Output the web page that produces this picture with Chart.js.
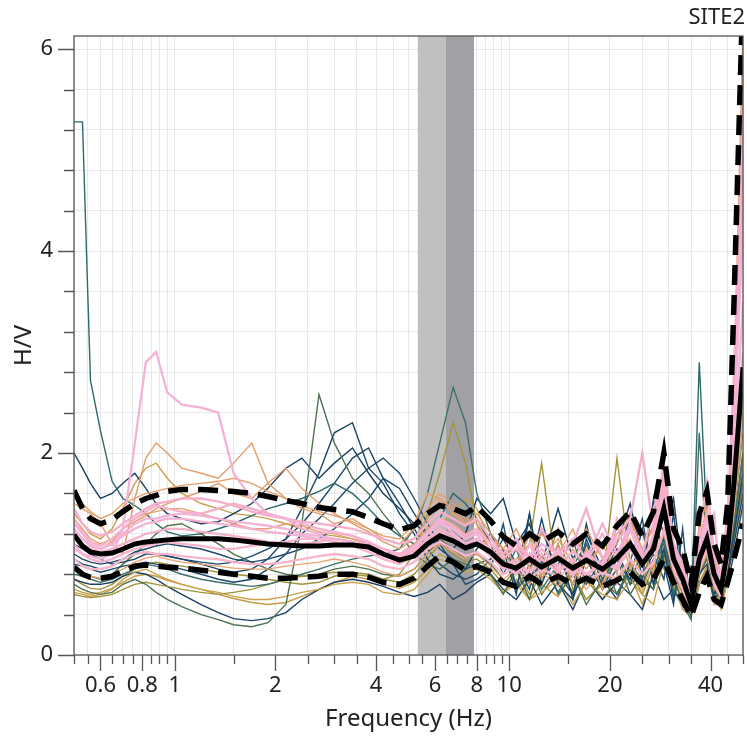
<!DOCTYPE html>
<html>
<head>
<meta charset="utf-8">
<script src="https://cdn.jsdelivr.net/npm/chart.js@4.4.1/dist/chart.umd.min.js"></script>
<style>
  html, body { margin: 0; padding: 0; background: #fff; }
  #wrap { width: 747px; height: 744px; }
</style>
</head>
<body>
<div id="wrap"><canvas id="hvChart" width="747" height="744"></canvas></div>
<script>
// frequencies (Hz) shared by every curve
var freq = [0.5,0.53,0.56,0.6,0.65,0.7,0.76,0.82,0.88,0.95,
  1.05,1.2,1.35,1.5,1.7,1.9,2.15,2.4,2.7,3,
  3.4,3.8,4.2,4.7,5.2,5.7,6.2,6.8,7.4,8,
  8.8,9.6,10.5,11.5,12.5,14,15.5,17,19,21,
  23,25,27,29,31,33,35,37,39,41,
  43,45,47,50];

// average H/V and +/- std curves
var hvMean = [1.19,1.08,1.02,1.00,1.01,1.05,1.10,1.12,1.13,1.14,
  1.15,1.15,1.15,1.14,1.12,1.10,1.09,1.08,1.08,1.09,
  1.09,1.07,1.00,0.94,0.98,1.10,1.18,1.13,1.06,1.10,
  1.02,0.90,0.86,0.95,0.87,0.96,0.86,0.94,0.85,0.96,
  1.10,0.90,1.05,1.45,0.95,0.75,0.50,0.95,1.15,0.80,
  0.65,1.05,1.70,2.85];
var hvUpper = [1.63,1.45,1.35,1.30,1.34,1.42,1.50,1.55,1.58,1.62,
  1.64,1.64,1.63,1.62,1.60,1.57,1.53,1.50,1.46,1.44,
  1.42,1.36,1.30,1.24,1.28,1.40,1.48,1.45,1.40,1.47,
  1.33,1.17,1.08,1.20,1.12,1.22,1.10,1.20,1.08,1.28,
  1.42,1.18,1.42,2.00,1.25,1.05,0.70,1.40,1.62,1.10,
  0.90,1.50,3.50,6.60];
var hvLower = [0.87,0.80,0.77,0.76,0.78,0.83,0.88,0.89,0.88,0.87,
  0.86,0.84,0.82,0.80,0.78,0.76,0.76,0.77,0.78,0.80,
  0.80,0.77,0.72,0.70,0.76,0.88,0.98,0.92,0.84,0.88,
  0.82,0.72,0.68,0.78,0.70,0.78,0.70,0.76,0.68,0.74,
  0.82,0.70,0.75,0.95,0.72,0.55,0.38,0.62,0.78,0.55,
  0.50,0.72,0.95,1.30];

// single time-window curves
var win01 = [5.28,5.28,2.72,2.22,1.72,1.55,1.48,1.40,1.30,1.22,
  1.18,1.20,1.25,1.30,1.38,1.45,1.50,1.55,1.62,1.70,
  1.60,1.45,1.30,1.18,1.10,1.20,1.35,1.60,1.50,1.35,
  1.10,0.80,1.05,0.70,0.95,0.62,0.88,1.10,0.75,0.98,
  0.70,1.05,0.80,1.20,0.60,0.85,0.45,2.90,1.30,0.75,
  0.60,0.95,1.40,2.40];
var win02 = [1.05,1.00,0.98,0.95,1.00,1.25,2.10,2.90,3.00,2.60,
  2.48,2.45,2.40,1.80,1.55,1.40,1.35,1.25,1.20,1.22,
  1.18,1.10,1.05,1.00,1.05,1.20,1.35,1.20,1.10,1.15,
  1.05,0.92,0.80,1.10,0.85,1.05,0.80,1.00,0.90,1.15,
  1.25,0.90,1.20,1.60,0.95,0.75,0.55,1.05,1.30,0.85,
  0.70,1.20,2.00,3.50];
var win03 = [1.50,1.45,1.40,1.30,1.10,1.00,1.55,1.95,2.10,2.00,
  1.85,1.80,1.75,1.90,2.10,1.70,1.55,1.45,1.40,1.30,
  1.35,1.25,1.15,1.10,1.25,1.45,1.60,1.50,1.35,1.30,
  1.10,1.00,0.85,1.20,0.75,1.10,0.70,1.05,0.65,1.30,
  0.85,1.05,0.80,1.75,1.10,0.70,0.50,1.30,1.50,0.65,
  0.75,1.30,2.50,5.00];
var win04 = [1.10,1.05,1.00,0.95,0.90,0.92,0.95,1.00,1.00,0.98,
  0.95,0.90,0.85,0.82,0.85,0.95,1.15,1.45,1.80,2.20,
  2.30,1.85,1.70,1.40,1.20,0.95,0.80,0.75,0.85,1.05,
  1.20,1.05,0.60,1.40,0.70,1.10,0.55,1.30,0.65,0.95,
  0.75,1.25,0.70,1.05,0.55,0.90,0.45,0.85,1.45,0.60,
  0.70,0.85,1.20,1.80];
var win05 = [0.90,0.88,0.85,0.82,0.85,0.88,0.90,0.92,0.90,0.88,
  0.85,0.80,0.75,0.72,0.75,0.85,1.00,1.20,1.35,1.50,
  1.70,1.85,1.95,1.80,1.55,1.30,1.10,0.90,0.70,0.75,
  0.85,1.30,0.65,0.80,1.35,0.70,0.55,0.95,0.65,0.85,
  1.40,0.75,1.55,0.90,0.50,1.25,0.40,0.80,0.90,0.55,
  0.65,0.80,1.10,1.60];
var win06 = [0.70,0.65,0.62,0.60,0.62,0.70,0.75,0.70,0.62,0.55,
  0.48,0.40,0.35,0.30,0.28,0.32,0.50,1.30,2.58,2.10,
  1.75,1.60,1.40,1.20,1.00,0.90,0.85,0.95,0.90,0.85,
  0.80,0.60,0.85,0.55,1.00,0.60,0.80,0.50,0.75,0.95,
  0.60,0.80,0.65,1.00,0.75,0.55,0.40,0.80,0.95,0.70,
  0.60,0.85,1.20,1.70];
var win07 = [0.80,0.78,0.75,0.72,0.75,0.80,0.85,0.90,0.88,0.85,
  0.80,0.75,0.72,0.70,0.68,0.70,0.75,0.80,0.85,0.90,
  0.95,0.98,1.00,1.05,1.25,1.60,2.10,2.65,2.30,1.60,
  1.20,0.95,0.70,1.00,0.65,0.90,1.15,0.70,0.95,0.60,
  0.85,0.70,0.95,1.10,0.65,0.50,0.35,2.20,1.00,0.65,
  0.55,0.85,1.30,2.00];
var win08 = [0.60,0.58,0.57,0.58,0.60,0.65,0.70,0.72,0.70,0.68,
  0.65,0.62,0.60,0.62,0.65,0.70,0.75,0.78,0.80,0.82,
  0.80,0.78,0.75,0.80,1.00,1.40,1.80,2.30,1.90,1.30,
  1.00,0.85,0.95,1.10,1.90,0.70,0.80,0.55,0.70,1.95,
  0.90,0.65,1.20,0.85,0.70,1.00,0.45,0.85,1.10,0.55,
  0.80,0.90,1.40,2.20];
var win09 = [0.62,0.60,0.58,0.60,0.65,0.75,0.82,0.85,0.80,0.75,
  0.70,0.65,0.62,0.58,0.55,0.55,0.58,0.62,0.65,0.70,
  0.72,0.70,0.62,0.60,0.65,0.80,0.95,0.90,0.82,0.85,
  0.75,0.62,0.70,0.55,0.62,0.75,0.50,0.72,0.60,0.55,
  0.75,0.60,0.50,0.95,0.70,0.45,0.38,0.70,0.85,0.58,
  0.45,0.75,1.10,1.60];
var win10 = [1.35,1.25,1.15,1.10,1.15,1.25,1.35,1.40,1.42,1.45,
  1.45,1.40,1.35,1.30,1.25,1.25,1.30,1.28,1.22,1.20,
  1.15,1.10,1.05,1.00,1.10,1.25,1.35,1.30,1.20,1.25,
  1.05,0.95,1.10,0.85,1.00,0.80,1.05,0.85,1.10,0.80,
  1.25,0.95,1.15,1.65,1.00,0.80,0.55,1.05,1.35,0.90,
  0.72,1.25,2.20,4.50];
var win11 = [1.20,1.10,1.05,1.02,1.05,1.10,1.15,1.20,1.22,1.25,
  1.25,1.22,1.20,1.18,1.15,1.12,1.10,1.10,1.12,1.15,
  1.12,1.08,1.02,0.98,1.02,1.15,1.25,1.18,1.10,1.15,
  1.05,0.88,0.95,0.82,1.00,0.85,0.95,0.80,0.92,0.88,
  1.10,0.90,1.05,1.50,0.95,0.75,0.52,0.98,1.20,0.82,
  0.68,1.10,1.80,3.00];
var win12 = [1.45,1.30,1.22,1.18,1.22,1.30,1.38,1.45,1.50,1.52,
  1.55,1.55,1.52,1.48,1.42,1.38,1.35,1.32,1.30,1.28,
  1.25,1.20,1.15,1.10,1.15,1.30,1.42,1.35,1.28,1.35,
  1.15,1.00,1.10,0.95,1.25,0.95,1.10,1.45,0.95,1.20,
  1.35,2.00,1.25,1.90,1.10,0.90,0.62,1.20,1.70,1.00,
  0.80,1.40,2.80,5.50];
var win13 = [0.95,0.88,0.85,0.85,0.88,0.95,1.00,1.02,1.00,1.00,
  0.98,0.96,0.95,0.92,0.90,0.90,0.92,0.95,0.98,1.00,
  0.98,0.95,0.88,0.85,0.92,1.05,1.12,1.05,0.98,1.02,
  0.92,0.80,0.88,0.76,0.85,0.78,0.88,0.74,0.82,0.76,
  0.95,0.80,0.92,1.25,0.85,0.65,0.45,0.85,1.05,0.70,
  0.58,0.95,1.50,2.60];
var win14 = [1.30,1.20,1.10,1.05,1.10,1.20,1.30,1.35,1.35,1.38,
  1.40,1.38,1.35,1.32,1.30,1.28,1.25,1.20,1.18,1.15,
  1.12,1.05,0.98,0.95,1.05,1.20,1.30,1.25,1.15,1.20,
  1.00,0.90,0.80,1.00,0.82,1.05,0.78,1.00,0.80,1.35,
  1.10,0.88,1.05,1.45,0.92,0.72,0.50,0.92,1.25,1.40,
  0.62,1.15,2.30,4.20];
var win15 = [0.75,0.72,0.70,0.70,0.72,0.78,0.82,0.80,0.75,0.68,
  0.60,0.50,0.42,0.36,0.34,0.36,0.42,0.55,0.65,0.72,
  0.75,0.72,0.68,0.62,0.58,0.62,0.70,0.55,0.62,0.72,
  0.80,0.65,0.55,0.75,0.50,0.72,0.45,0.75,0.55,0.72,
  0.60,0.45,0.80,0.55,0.65,0.48,0.40,0.70,0.85,0.55,
  0.52,0.72,1.00,1.50];
var win16 = [2.00,1.85,1.70,1.55,1.60,1.70,1.80,1.65,1.50,1.40,
  1.35,1.30,1.32,1.40,1.50,1.65,1.85,1.95,1.75,1.90,
  2.05,1.80,1.60,1.45,1.30,1.20,1.10,1.05,1.20,1.55,
  1.40,1.55,1.10,1.30,0.90,1.45,0.95,1.20,0.85,1.10,
  1.50,0.95,1.50,1.20,1.55,0.80,0.55,1.00,1.20,0.80,
  0.65,1.00,1.60,2.60];
var win17 = [1.25,1.15,1.08,1.05,1.12,1.25,1.32,1.38,1.45,1.50,
  1.55,1.62,1.70,1.60,1.55,1.70,1.85,1.65,1.50,1.40,
  1.30,1.22,1.12,1.05,1.15,1.35,1.55,1.45,1.30,1.40,
  1.20,1.05,0.90,1.20,0.95,1.15,0.90,1.25,0.95,1.10,
  1.40,1.00,1.30,1.70,1.10,0.85,0.60,1.10,1.40,0.95,
  0.75,1.35,2.60,5.80];
var win18 = [0.75,0.70,0.66,0.65,0.70,0.78,0.85,0.90,0.92,0.90,
  0.88,0.85,0.82,0.80,0.78,0.75,0.72,0.70,0.72,0.78,
  0.82,0.80,0.75,0.72,0.80,0.95,1.10,1.00,0.92,0.95,
  0.85,0.70,0.85,0.60,0.80,1.25,0.65,0.80,0.55,0.78,
  0.85,0.60,0.88,1.05,0.78,0.62,0.42,0.78,0.95,0.62,
  0.52,0.80,1.20,1.90];
var win19 = [0.95,0.90,0.88,0.85,0.88,0.95,1.02,1.05,1.08,1.10,
  1.08,1.05,1.00,0.95,0.92,0.95,1.00,1.05,1.15,1.25,
  1.40,1.55,1.75,1.65,1.40,1.20,1.05,0.95,0.85,0.90,
  0.95,1.05,0.80,1.40,0.75,0.95,0.70,1.10,0.80,1.05,
  0.70,0.80,1.00,0.75,1.40,0.65,0.42,0.85,1.05,0.70,
  0.58,0.90,1.30,2.00];
var win20 = [1.40,1.30,1.20,1.15,1.25,1.45,1.70,1.85,1.90,1.75,
  1.60,1.50,1.45,1.40,1.38,1.35,1.30,1.25,1.20,1.18,
  1.15,1.10,1.05,1.00,1.05,1.20,1.30,1.40,1.55,1.45,
  1.10,0.95,0.70,1.00,0.80,1.00,0.70,0.95,0.70,0.95,
  1.15,0.75,1.10,1.55,0.95,0.60,0.50,0.95,1.20,0.80,
  0.65,1.10,1.70,3.00];
var win21 = [1.35,1.22,1.12,1.08,1.15,1.25,1.35,1.42,1.48,1.45,
  1.42,1.40,1.45,1.50,1.45,1.40,1.35,1.30,1.25,1.22,
  1.18,1.12,1.05,1.00,1.08,1.22,1.35,1.28,1.18,1.25,
  1.10,0.96,1.05,0.90,1.05,0.88,1.02,0.92,1.20,0.95,
  1.25,0.95,1.15,1.70,1.02,0.82,0.55,1.05,1.35,0.88,
  0.70,1.25,2.20,4.80];
var win22 = [1.10,1.00,0.95,0.92,0.95,1.00,1.05,1.08,1.10,1.12,
  1.10,1.08,1.05,1.05,1.08,1.10,1.12,1.15,1.15,1.12,
  1.08,1.02,0.95,0.90,0.98,1.12,1.22,1.15,1.05,1.10,
  0.98,0.85,0.92,0.80,0.95,0.82,0.94,0.78,0.92,0.85,
  1.05,0.88,1.02,1.40,0.92,0.72,0.48,0.92,1.12,0.78,
  0.62,1.02,1.65,2.80];
var win23 = [0.85,0.80,0.78,0.76,0.80,0.85,0.92,0.96,0.98,0.95,
  0.92,0.90,0.88,0.86,0.85,0.85,0.88,0.90,0.92,0.95,
  0.92,0.88,0.82,0.78,0.85,1.00,1.10,1.02,0.95,1.00,
  0.88,0.75,0.85,0.70,0.82,0.68,0.86,0.65,0.84,0.70,
  0.95,0.65,0.92,1.20,0.82,0.55,0.42,0.82,1.00,0.68,
  0.55,0.90,1.40,2.40];
var win24 = [1.00,0.95,0.92,0.90,0.92,0.95,1.00,1.02,1.00,0.98,
  0.95,0.92,0.90,0.92,0.98,1.05,1.15,1.30,1.50,1.70,
  1.95,2.05,1.75,1.50,1.25,1.05,0.90,0.80,0.75,0.80,
  0.95,1.15,0.90,0.65,1.25,0.80,0.60,1.15,0.75,0.55,
  0.92,1.35,0.70,1.15,0.78,0.50,0.45,0.88,1.05,0.70,
  0.58,0.88,1.25,1.90];
var win25 = [0.85,0.80,0.78,0.75,0.80,0.90,1.00,1.10,1.20,1.28,
  1.30,1.20,1.10,1.00,0.92,0.85,0.80,0.78,0.80,0.85,
  0.88,0.85,0.80,0.78,0.85,1.00,1.15,1.05,0.95,1.00,
  0.90,0.75,0.65,0.90,0.60,0.85,0.62,0.80,0.72,0.60,
  0.90,0.75,0.65,1.05,0.78,0.62,0.42,0.80,0.98,0.66,
  0.55,0.85,1.25,1.90];
var win26 = [0.65,0.62,0.60,0.62,0.66,0.72,0.78,0.80,0.78,0.74,
  0.70,0.65,0.60,0.56,0.52,0.50,0.52,0.58,0.65,0.72,
  0.78,0.75,0.70,0.66,0.72,0.85,1.00,0.92,0.85,0.88,
  0.78,0.62,0.75,0.55,0.70,0.58,0.80,0.55,0.72,0.62,
  0.80,0.50,0.82,0.98,0.60,0.58,0.38,0.72,0.88,0.50,
  0.50,0.78,1.15,1.70];
var win27 = [1.25,1.15,1.08,1.05,1.10,1.18,1.25,1.30,1.32,1.35,
  1.35,1.32,1.30,1.28,1.25,1.22,1.20,1.18,1.15,1.15,
  1.12,1.08,1.00,0.96,1.05,1.20,1.32,1.25,1.15,1.22,
  1.10,1.00,1.15,0.95,1.10,1.00,1.15,0.95,1.30,1.00,
  1.30,1.00,1.45,1.75,1.05,0.85,0.58,1.10,1.40,0.90,
  0.72,1.28,2.40,5.20];
var win28 = [1.60,1.50,1.42,1.35,1.40,1.50,1.55,1.60,1.62,1.65,
  1.68,1.70,1.72,1.75,1.70,1.62,1.55,1.48,1.42,1.38,
  1.32,1.25,1.18,1.15,1.30,1.60,1.55,1.40,1.30,1.35,
  1.15,1.05,1.25,0.95,1.20,1.00,1.25,0.90,1.10,1.15,
  1.35,1.05,1.25,1.85,1.10,0.88,0.62,1.15,1.45,0.95,
  0.78,1.35,2.70,6.20];

// peak frequency band: f0/std, f0, f0*std
var peakBand = [5.33, 6.47, 7.85];

// axis ticks
var xTickVals = [0.5,0.55,0.6,0.65,0.7,0.75,0.8,0.85,0.9,0.95,
  1,1.5,2,2.5,3,3.5,4,4.5,5,5.5,6,6.5,7,7.5,8,8.5,9,9.5,
  10,15,20,25,30,35,40,45,50];
var xLabelVals = [0.6,0.8,1,2,4,6,8,10,20,40];
var yTickVals = [0,0.4,0.8,1.2,1.6,2,2.4,2.8,3.2,3.6,4,4.4,4.8,5.2,5.6,6];
var yLabelVals = [0,2,4,6];

var windowSeries = [win01,win02,win03,win04,win05,win06,win07,win08,
  win09,win10,win11,win12,win13,win14,win15,win16,
  win17,win18,win19,win20,win21,win22,win23,win24,win25,win26,win27,win28];
var windowColors = ['#2d6a6c','#f4b2d6','#e39d68','#1b4563','#1d4a6a','#4f7352','#3f7068','#a3953a',
  '#c9a24c','#e6a070','#f6b0c8','#f5afca','#f7b5cc','#f2b3d8','#1a3f63','#173f60',
  '#e49c6a','#9f933c','#1c4a6c','#c8a04a','#f5b1cb','#f7b4cd','#e7a472','#1c4868','#52744f','#c49c48','#f3b0d2','#e59f6c'];
var windowOrder = [3,1,2,3,3,3,3,3,3,2,1,1,1,1,3,3,
  2,3,3,3,1,1,2,3,3,3,1,2];

function toPoints(vals) {
  return freq.map(function (f, i) { return {x: f, y: vals[i]}; });
}

var datasets = [];
datasets.push({data: toPoints(hvMean), borderColor: '#000', borderWidth: 5, order: 0});
datasets.push({data: toPoints(hvUpper), borderColor: '#000', borderWidth: 5.5, borderDash: [20, 10], order: 0});
datasets.push({data: toPoints(hvLower), borderColor: '#000', borderWidth: 5.5, borderDash: [20, 10], order: 0});
windowSeries.forEach(function (s, i) {
  var pink = windowOrder[i] == 1;
  datasets.push({
    data: toPoints(s),
    borderColor: windowColors[i],
    borderWidth: pink ? 2.3 : 1.4,
    order: windowOrder[i]
  });
});

var frameAndBands = {
  id: 'frameAndBands',
  beforeDatasetsDraw: function (chart) {
    var ctx = chart.ctx, a = chart.chartArea, x = chart.scales.x;
    var p0 = x.getPixelForValue(peakBand[0]);
    var p1 = x.getPixelForValue(peakBand[1]);
    var p2 = x.getPixelForValue(peakBand[2]);
    ctx.save();
    ctx.fillStyle = '#c0c0c0';
    ctx.fillRect(p0, a.top, p1 - p0, a.bottom - a.top);
    ctx.fillStyle = '#a1a1a5';
    ctx.fillRect(p1, a.top, p2 - p1, a.bottom - a.top);
    ctx.restore();
  },
  afterDraw: function (chart) {
    var ctx = chart.ctx, a = chart.chartArea, x = chart.scales.x, y = chart.scales.y;
    ctx.save();
    ctx.strokeStyle = '#555';
    ctx.lineWidth = 1.3;
    ctx.beginPath();
    xTickVals.forEach(function (v) {
      var px = Math.round(x.getPixelForValue(v)) + 0.5;
      var len = xLabelVals.indexOf(v) >= 0 ? 16 : 9;
      ctx.moveTo(px, a.bottom);
      ctx.lineTo(px, a.bottom + len);
    });
    yTickVals.forEach(function (v) {
      var py = Math.round(y.getPixelForValue(v)) + 0.5;
      var len = yLabelVals.indexOf(v) >= 0 ? 16 : 10;
      ctx.moveTo(a.left, py);
      ctx.lineTo(a.left - len, py);
    });
    ctx.stroke();
    ctx.strokeRect(a.left, a.top, a.right - a.left, a.bottom - a.top);
    ctx.restore();
  }
};

var fontFam = '"Noto Sans", "Open Sans", sans-serif';

var ctx = document.getElementById('hvChart').getContext('2d');
var hvChart = new Chart(ctx, {
  type: 'line',
  data: {datasets: datasets},
  options: {
    responsive: false,
    animation: false,
    events: [],
    layout: {padding: {left: 0, right: 2, top: 0, bottom: 0}},
    elements: {point: {radius: 0}, line: {tension: 0}},
    plugins: {
      legend: {display: false},
      tooltip: {enabled: false},
      title: {
        display: true, text: 'SITE2', align: 'end', color: '#222',
        font: {family: fontFam, size: 22, weight: 'normal'},
        padding: {top: 5, bottom: 4.6}
      }
    },
    scales: {
      x: {
        type: 'logarithmic', min: 0.5, max: 50,
        border: {display: false},
        grid: {color: '#e8e8e8', lineWidth: 1, drawTicks: false},
        afterBuildTicks: function (axis) {
          axis.ticks = xTickVals.map(function (v) { return {value: v}; });
        },
        afterFit: function (scale) {
          scale.height = 89;
          scale.paddingLeft = 0;
          scale.paddingRight = 4;
        },
        ticks: {
          autoSkip: false, maxRotation: 0, padding: 18, color: '#222',
          font: {family: fontFam, size: 22},
          callback: function (v) { return xLabelVals.indexOf(v) >= 0 ? String(v) : ''; }
        },
        title: {
          display: true, text: 'Frequency (Hz)', color: '#222',
          font: {family: fontFam, size: 24},
          padding: {top: 0, bottom: 10}
        }
      },
      y: {
        min: 0, max: 6.13,
        border: {display: false},
        grid: {color: '#e8e8e8', lineWidth: 1, drawTicks: false},
        afterBuildTicks: function (axis) {
          axis.ticks = yTickVals.map(function (v) { return {value: v}; });
        },
        afterFit: function (scale) {
          scale.width = 74;
          scale.paddingTop = 0;
          scale.paddingBottom = 0;
        },
        ticks: {
          autoSkip: false, padding: 21, color: '#222',
          font: {family: fontFam, size: 22},
          callback: function (v) { return yLabelVals.indexOf(v) >= 0 ? String(v) : ''; }
        },
        title: {
          display: true, text: 'H/V', color: '#222',
          font: {family: fontFam, size: 24},
          padding: {top: 10, bottom: 0}
        }
      }
    }
  },
  plugins: [frameAndBands]
});
</script>
</body>
</html>
